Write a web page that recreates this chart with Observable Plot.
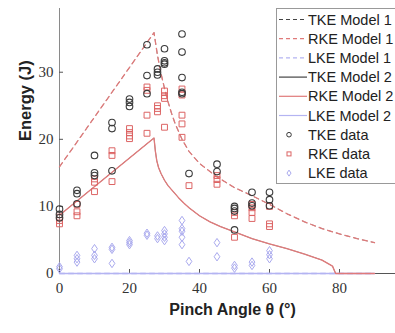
<!DOCTYPE html>
<html>
<head>
<meta charset="utf-8">
<script src="https://cdn.jsdelivr.net/npm/d3@7"></script>
<script src="https://cdn.jsdelivr.net/npm/@observablehq/plot@0.6"></script>
<style>
  html, body { margin: 0; padding: 0; background: #fff; overflow: hidden; }
  #wrap { position: relative; width: 395px; height: 333px; overflow: hidden; }
  #legend { position: absolute; left: 276px; top: 8px; }
</style>
</head>
<body>
<div id="wrap"><div id="chart"></div><div id="legend"></div></div>
<script>
// ---- Tick labels ----
const xTicks = [0, 20, 40, 60, 80];
const yTicks = [0, 10, 20, 30];

// ---- Measured data (pinch angle groups) ----
const dataTheta = [0, 5, 10, 15, 20, 25, 28, 30, 35, 37, 45, 50, 55, 60];
const tkeData = [
  [9.6, 8.8, 8.3], [12.4, 11.9, 10.4], [17.6, 15.0, 14.6], [22.5, 21.6, 15.3],
  [26.0, 25.5, 24.9], [34.1, 29.5, 26.8], [30.5, 30.0, 29.6], [33.5, 31.7, 31.4, 31.2],
  [35.7, 33.0, 29.2, 27.0, 26.8], [14.9], [16.3, 15.2], [10.0, 9.7, 9.3, 6.5],
  [12.1, 10.5, 10.1], [12.1, 11.0, 10.1]
];
const rkeData = [
  [8.4, 7.9, 7.4], [10.3, 9.2, 8.6], [14.1, 13.6, 12.2], [18.3, 17.6, 13.7],
  [21.6, 21.0, 20.5, 20.1], [27.8, 27.3, 23.6, 20.9], [25.0, 24.6, 24.1], [27.2, 26.5, 26.1, 21.8],
  [27.5, 26.6, 23.6, 22.3, 20.3], [13.1], [14.6, 14.0, 13.3], [9.1, 8.6, 5.4],
  [10.3, 9.8, 9.1, 8.2], [10.0, 7.4, 7.0]
];
const lkeData = [
  [1.0, 0.7], [2.7, 2.2, 1.7], [3.7, 2.7, 2.2], [3.9, 3.6, 1.5],
  [4.9, 4.6, 4.3], [6.0, 5.7], [5.6, 5.2], [6.4, 5.9, 5.4, 4.9],
  [7.9, 6.7, 6.3, 5.4, 4.3], [1.8], [4.6, 2.5], [1.2, 0.8],
  [1.7, 1.2], [3.4, 2.8, 2.2]
];

// ---- Model 1 (dashed) ----
const model1Theta = [0, 27, 28, 29, 30, 31, 32, 33, 35, 37, 40, 45, 50, 55, 60, 65, 70, 75, 80, 85, 90];
const rkeModel1   = [15.9, 35.9, 32.5, 29.8, 27.6, 25.6, 23.9, 22.4, 20.0, 18.2, 16.4, 14.4, 12.8, 11.6, 10.3, 8.9, 7.7, 6.7, 5.9, 5.2, 4.6];
const tkeModel1   = [15.9, 35.9, 32.5, 29.8, 27.6, 25.6, 23.9, 22.4, 20.0, 18.2, 16.4, 14.4, 12.8, 11.6, 10.3, 8.9, 7.7, 6.7, 5.9, 5.2, 4.6];
// ---- Model 2 (solid) ----
const model2Theta = [0, 27, 27.4, 27.8, 28.3, 29, 30, 31, 32, 33, 34, 35.5, 37, 40, 43, 46, 50, 55, 60, 65, 70, 75, 78, 78.9, 90];
const rkeModel2   = [8.7, 20.2, 18.2, 16.8, 15.8, 14.9, 13.9, 13.1, 12.5, 11.9, 11.3, 10.5, 9.8, 8.6, 7.7, 7.0, 6.2, 5.2, 4.4, 3.7, 2.9, 2.0, 1.1, 0, 0];
const tkeModel2   = [8.7, 20.2, 18.2, 16.8, 15.8, 14.9, 13.9, 13.1, 12.5, 11.9, 11.3, 10.5, 9.8, 8.6, 7.7, 7.0, 6.2, 5.2, 4.4, 3.7, 2.9, 2.0, 1.1, 0, 0];
// ---- Linear KE models ----
const lkeModelTheta = [0, 90];
const lkeModel1 = [0, 0];
const lkeModel2 = [0, 0];

const colors = { tke: "#3a3a3a", rke: "#dc6464", rkeLine: "#e07a7a", lke: "#a9a9ee", lkeLine: "#b4b4f2" };

const flatten = (vals) => dataTheta.flatMap((t, i) => vals[i].map(v => ({theta: t, e: v})));
const line = (th, vals) => th.map((t, i) => ({theta: t, e: vals[i]}));

const diamond = {
  draw(ctx, size) {
    const h = Math.sqrt(size) * 0.66, w = h * 0.68;
    ctx.moveTo(0, -h); ctx.lineTo(w, 0); ctx.lineTo(0, h); ctx.lineTo(-w, 0); ctx.closePath();
  }
};

const serif = "'Liberation Serif', 'DejaVu Serif', serif";
const sans = "'Liberation Sans', Arial, sans-serif";

const plot = Plot.plot({
  width: 395, height: 333,
  marginLeft: 59, marginRight: 0, marginTop: 8, marginBottom: 60,
  x: {domain: [0, 96]},
  y: {domain: [0, 39.5]},
  style: {background: "transparent"},
  marks: [
    Plot.ruleX([0], {stroke: "#8a8a8a", strokeWidth: 1}),
    Plot.ruleY([0], {stroke: "#555", strokeWidth: 1}),
    Plot.ruleX(xTicks, {y1: 0, y2: 0, insetTop: -4, stroke: "#555"}),
    Plot.ruleY(yTicks, {x1: 0, x2: 0, insetRight: -4, stroke: "#555"}),
    Plot.axisX({ticks: xTicks, tickSize: 0, tickPadding: 9, label: null, fontFamily: serif, fontSize: 15, color: "#333"}),
    Plot.axisY({ticks: yTicks, tickSize: 0, tickPadding: 6, label: null, fontFamily: serif, fontSize: 15, color: "#333"}),
    // models
    Plot.line(line(lkeModelTheta, lkeModel1), {x: "theta", y: "e", stroke: colors.lkeLine, strokeWidth: 1.3, strokeDasharray: "5,4"}),
    Plot.line(line(lkeModelTheta, lkeModel2), {x: "theta", y: "e", stroke: colors.lkeLine, strokeWidth: 1.3}),
    Plot.line(line(model1Theta, tkeModel1), {x: "theta", y: "e", stroke: "#777", strokeWidth: 0.8, strokeDasharray: "5,4"}),
    Plot.line(line(model1Theta, rkeModel1), {x: "theta", y: "e", stroke: colors.rkeLine, strokeWidth: 1.3, strokeDasharray: "5,4"}),
    Plot.line(line(model2Theta, tkeModel2), {x: "theta", y: "e", stroke: "#777", strokeWidth: 0.8}),
    Plot.line(line(model2Theta, rkeModel2), {x: "theta", y: "e", stroke: colors.rkeLine, strokeWidth: 1.3}),
    // data
    Plot.dot(flatten(lkeData), {x: "theta", y: "e", symbol: diamond, r: 3.6, stroke: colors.lke, strokeWidth: 1}),
    Plot.dot(flatten(rkeData), {x: "theta", y: "e", symbol: "square", r: 3.3, stroke: colors.rke, strokeWidth: 1}),
    Plot.dot(flatten(tkeData), {x: "theta", y: "e", symbol: "circle", r: 3.3, stroke: colors.tke, strokeWidth: 1.1}),
    // axis labels
    Plot.text(["Pinch Angle θ (°)"], {frameAnchor: "bottom", dy: 41, dx: 5, fontFamily: sans, fontWeight: "bold", fontSize: 16, fill: "#222"}),
    Plot.text(["Energy (J)"], {frameAnchor: "left", dx: -34, rotate: -90, fontFamily: sans, fontWeight: "bold", fontSize: 16.5, fill: "#222"})
  ]
});
document.getElementById("chart").appendChild(plot);

// ---- Legend ----
const legendItems = [
  {label: "TKE Model 1", kind: "line", color: "#444", dash: "4,3"},
  {label: "RKE Model 1", kind: "line", color: colors.rkeLine, dash: "4,3"},
  {label: "LKE Model 1", kind: "line", color: colors.lkeLine, dash: "4,3"},
  {label: "TKE Model 2", kind: "line", color: "#444", dash: null},
  {label: "RKE Model 2", kind: "line", color: colors.rkeLine, dash: null},
  {label: "LKE Model 2", kind: "line", color: colors.lkeLine, dash: null},
  {label: "TKE data", kind: "circle", color: colors.tke},
  {label: "RKE data", kind: "square", color: colors.rke},
  {label: "LKE data", kind: "diamond", color: colors.lke}
];
const lw = 140, lh = 176, rowH = 19.2, row0 = 11.5;
const svg = d3.select("#legend").append("svg").attr("width", lw).attr("height", lh);
svg.append("rect").attr("x", 0.5).attr("y", 0.5).attr("width", lw).attr("height", lh - 1)
  .attr("fill", "white").attr("stroke", "#999");
legendItems.forEach((d, i) => {
  const y = row0 + i * rowH;
  const g = svg.append("g");
  if (d.kind === "line") {
    g.append("line").attr("x1", 3).attr("x2", 31).attr("y1", y).attr("y2", y)
      .attr("stroke", d.color).attr("stroke-width", 1.2).attr("stroke-dasharray", d.dash);
  } else if (d.kind === "circle") {
    g.append("circle").attr("cx", 13).attr("cy", y).attr("r", 2.3).attr("fill", "none").attr("stroke", d.color);
  } else if (d.kind === "square") {
    g.append("rect").attr("x", 11).attr("y", y - 2).attr("width", 4).attr("height", 4).attr("fill", "none").attr("stroke", d.color);
  } else {
    g.append("path").attr("d", `M13,${y-3}L15,${y}L13,${y+3}L11,${y}Z`).attr("fill", "none").attr("stroke", d.color);
  }
  g.append("text").attr("x", 32).attr("y", y).attr("dy", "0.35em")
    .attr("font-family", sans).attr("font-size", 14.5).attr("fill", "#222").text(d.label);
});
</script>
</body>
</html>
